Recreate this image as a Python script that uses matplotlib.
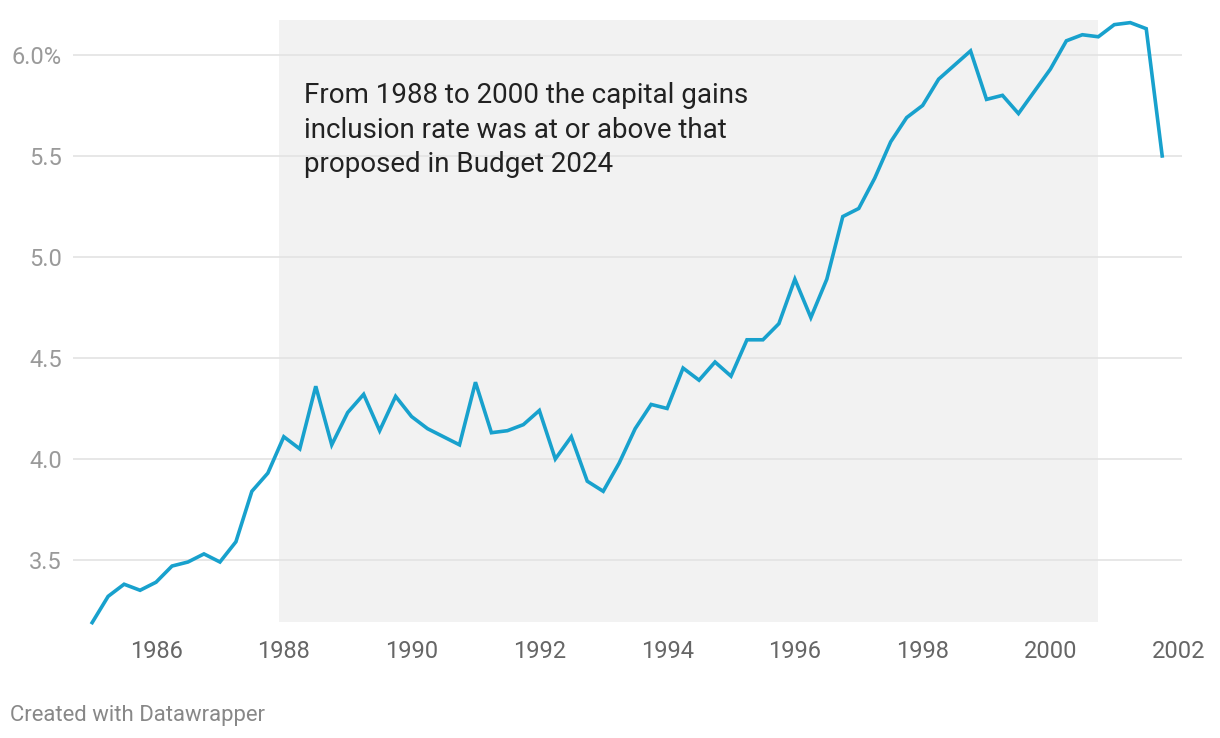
import numpy as np
import matplotlib.pyplot as plt

# quarterly series, 1985Q1 .. 2001Q4 (percent)
start_year = 1985.0
values = [
    3.19, 3.32, 3.38, 3.35, 3.39, 3.47, 3.49, 3.53,
    3.49, 3.59, 3.84, 3.93, 4.11, 4.05, 4.36, 4.07,
    4.23, 4.32, 4.14, 4.31, 4.21, 4.15, 4.11, 4.07,
    4.38, 4.13, 4.14, 4.17, 4.24, 4.00, 4.11, 3.89,
    3.84, 3.98, 4.15, 4.27, 4.25, 4.45, 4.39, 4.48,
    4.41, 4.59, 4.59, 4.67, 4.89, 4.70, 4.89, 5.20,
    5.24, 5.39, 5.57, 5.69, 5.75, 5.88, 5.95, 6.02,
    5.78, 5.80, 5.71, 5.82, 5.93, 6.07, 6.10, 6.09,
    6.15, 6.16, 6.13, 5.50,
]
years = start_year + np.arange(len(values)) / 4.0

shade_start, shade_end = 1987.92, 2000.74
x_ticks = [1986, 1988, 1990, 1992, 1994, 1996, 1998, 2000, 2002]
y_ticks = [3.5, 4.0, 4.5, 5.0, 5.5, 6.0]
y_labels = ["3.5", "4.0", "4.5", "5.0", "5.5", "6.0%"]
note = ("From 1988 to 2000 the capital gains\n"
        "inclusion rate was at or above that\n"
        "proposed in Budget 2024")

plt.rcParams['font.family'] = ['Roboto', 'DejaVu Sans']

W, H = 1220, 738
fig = plt.figure(figsize=(W / 100, H / 100), dpi=100)
# axes box in pixel coords: x 73..1182, y 20..622
ax = fig.add_axes([73 / W, 1 - 622 / H, (1182 - 73) / W, (622 - 20) / H])

ax.set_xlim(1984.70, 2002.06)
ax.set_ylim(3.193, 6.173)

ax.axvspan(shade_start, shade_end, color='#f2f2f2', zorder=0, lw=0)
for yt in y_ticks:
    ax.axhline(yt, color='#e3e3e3', lw=1.2, zorder=1)

ax.plot(years, values, color='#18a1cd', lw=2.6, zorder=3,
        solid_joinstyle='miter', clip_on=False)

ax.text(1988.32, 5.865, note, fontsize=20, color='#222222',
        va='top', ha='left', linespacing=1.36, zorder=4)

ax.set_xticks(x_ticks)
ax.set_xticklabels([str(x) for x in x_ticks])
ax.set_yticks(y_ticks)
ax.set_yticklabels(y_labels)
ax.tick_params(axis='x', length=0, pad=13, labelsize=17, labelcolor='#666666')
ax.tick_params(axis='y', length=0, pad=8, labelsize=17, labelcolor='#9a9a9a')
for s in ax.spines.values():
    s.set_visible(False)
ax.set_facecolor('white')

fig.text(10 / W, 1 - 715 / H, "Created with Datawrapper", fontsize=15.9,
         color='#888888', va='center', ha='left')

fig.savefig('out.png', dpi=100)
